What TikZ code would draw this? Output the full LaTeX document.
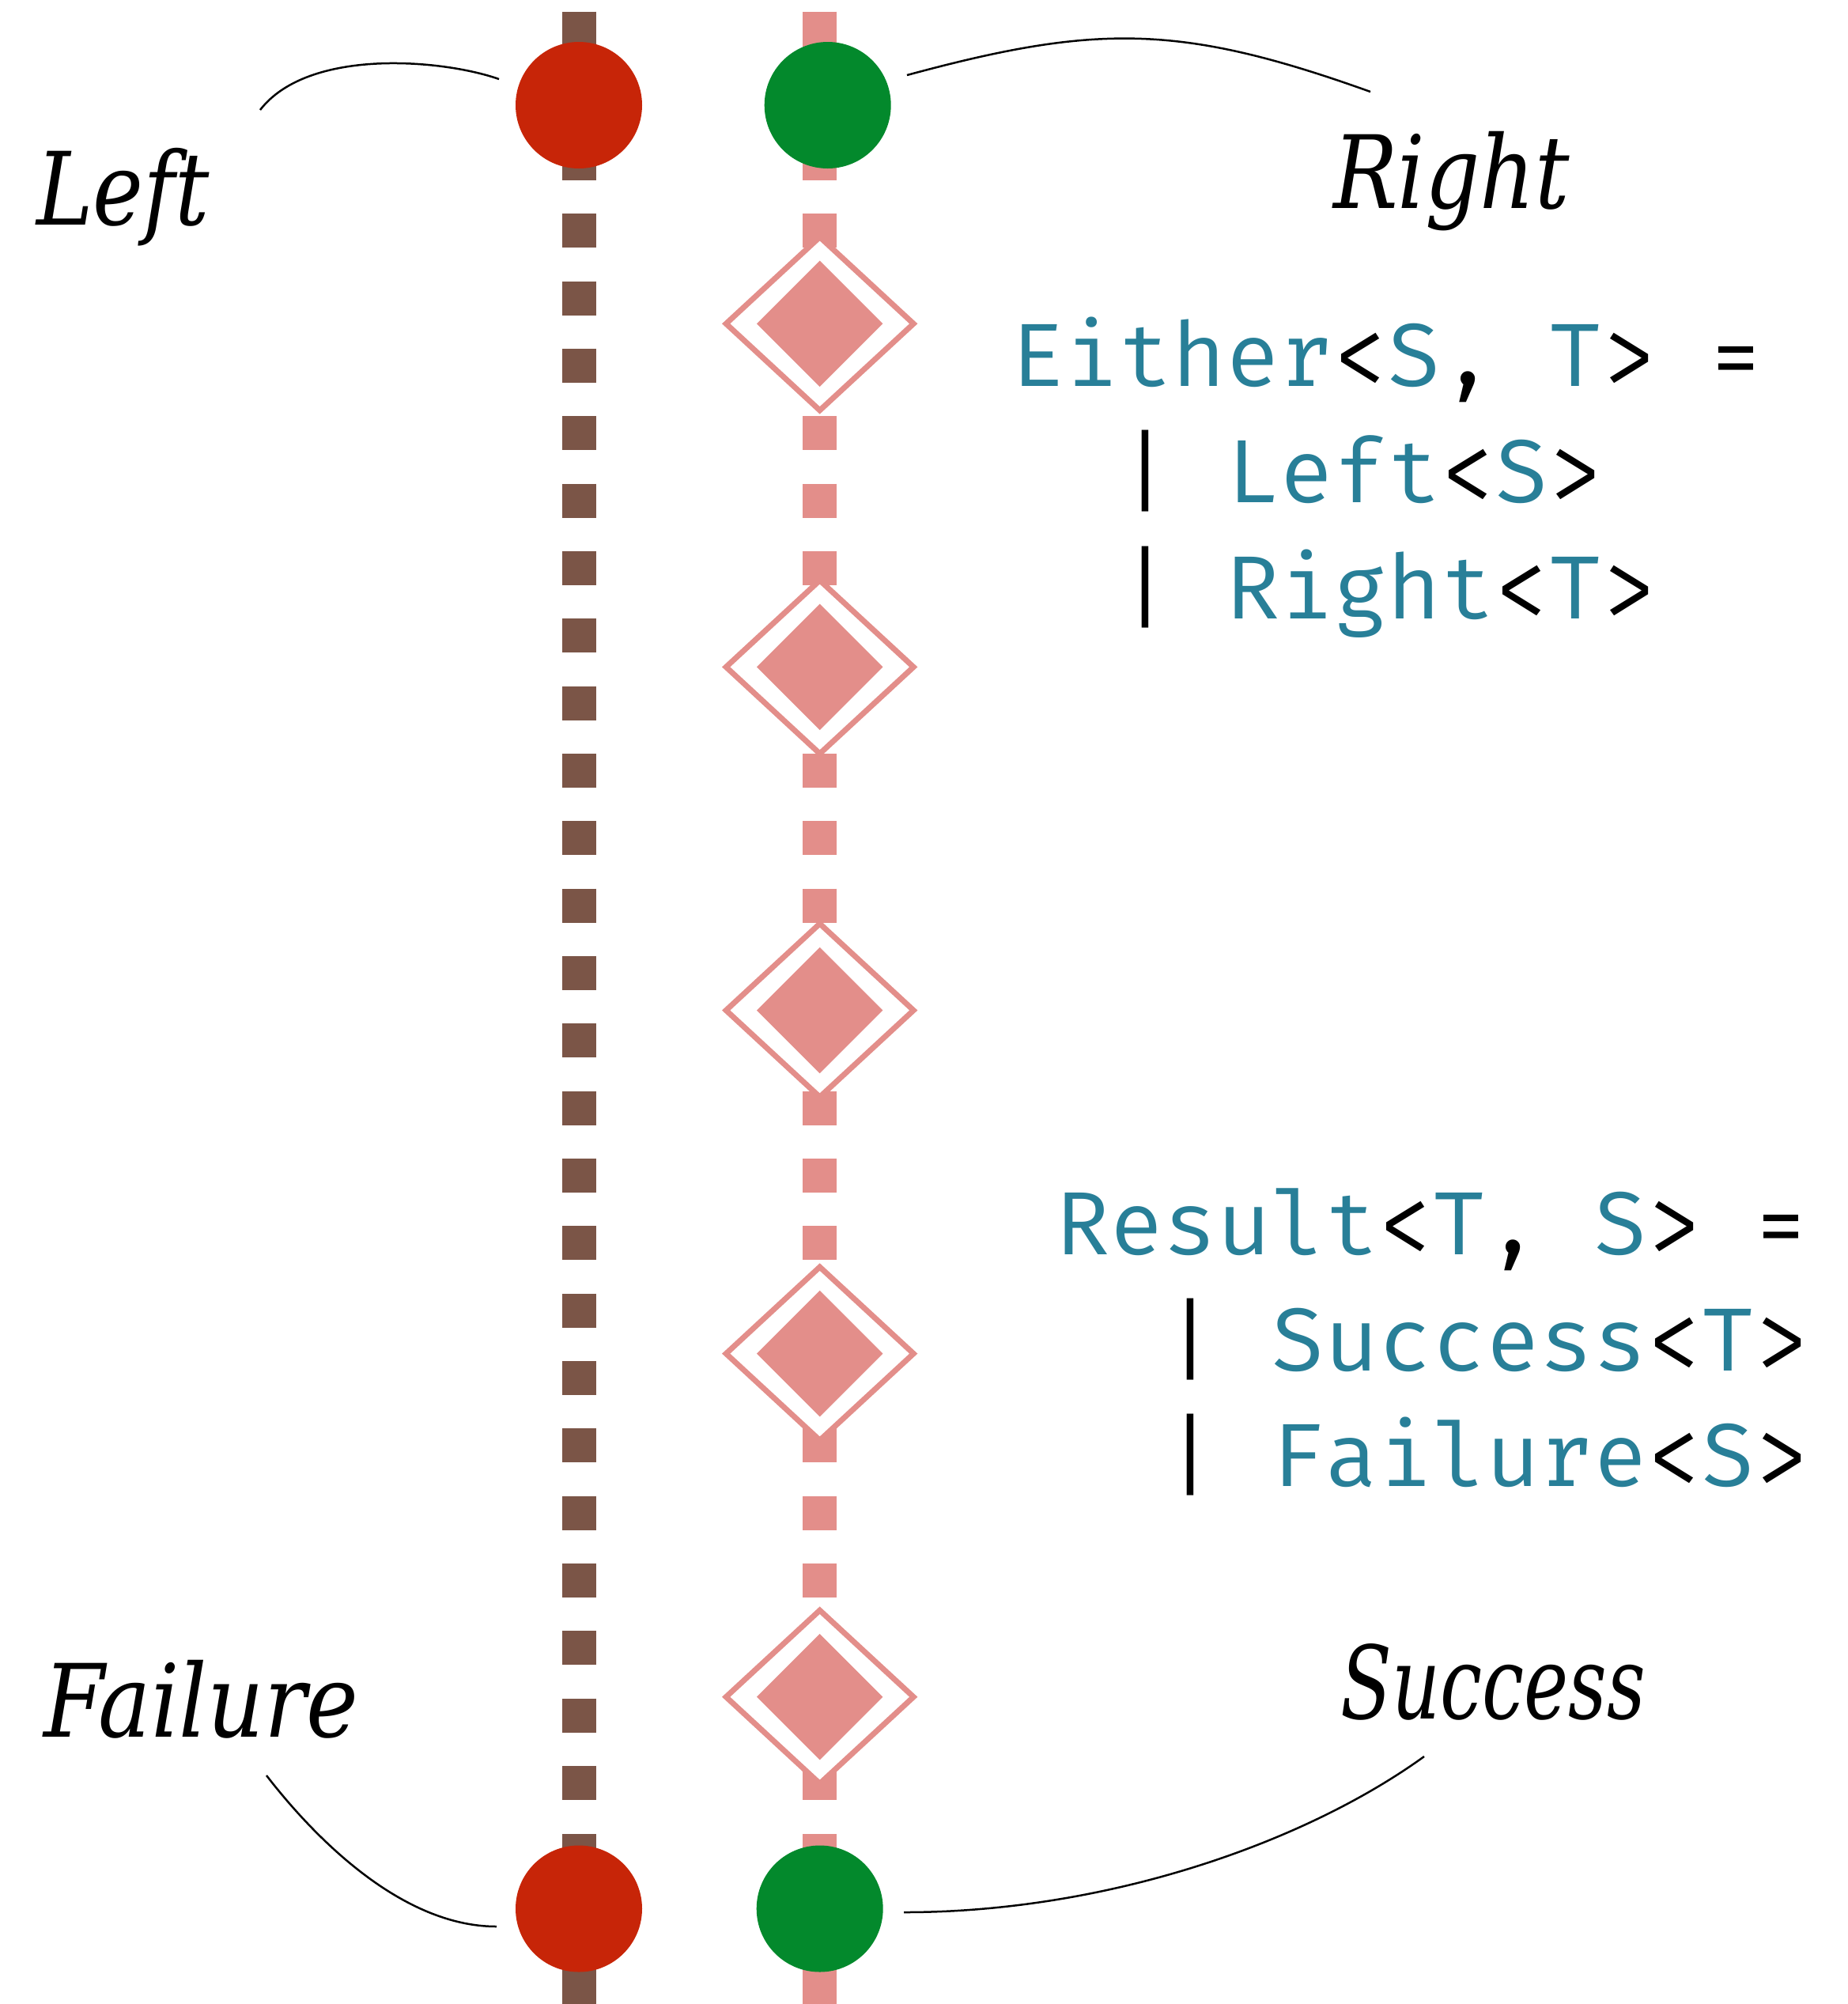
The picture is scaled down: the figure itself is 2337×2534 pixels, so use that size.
\documentclass[tikz,border=0pt]{standalone}
\usepackage{fontspec}
\usetikzlibrary{shapes.geometric}
\newfontfamily\lblfont{DejaVu Serif}
\newfontfamily\codefont{Fira Mono}
\definecolor{redc}{RGB}{199,37,8}
\definecolor{greenc}{RGB}{3,137,44}
\definecolor{brownc}{RGB}{123,85,71}
\definecolor{pinkc}{RGB}{227,142,138}
\definecolor{tealc}{RGB}{40,127,152}
\newcommand\lbl[2]{\resizebox{#1}{\height}{\lblfont\itshape\fontsize{38.4pt}{40pt}\selectfont #2}}
\newcommand\tc[1]{\textcolor{tealc}{#1}}
\begin{document}
\begin{tikzpicture}[x=0.3pt,y=-0.3pt,
  bar/.style={line width=12.9pt},
  dashpat/.style={dash pattern=on 12.9pt off 12.7pt},
  dot/.style={circle, minimum size=48pt, inner sep=0pt, draw=none},
  outerdia/.style={diamond, draw=pinkc, fill=white, line width=2.1pt, minimum width=72pt, minimum height=66.6pt, inner sep=0pt},
  innerdia/.style={diamond, fill=pinkc, minimum width=48pt, minimum height=48pt, inner sep=0pt},
  lblnode/.style={anchor=base west, inner sep=0pt, outer sep=0pt},
  code/.style={anchor=base west, inner sep=0pt, outer sep=0pt, font=\codefont\fontsize{34pt}{36pt}\selectfont},
  conn/.style={line width=0.75pt, draw=black}]
\useasboundingbox (0,0) rectangle (2337,2534);
% vertical tracks
\draw[bar, brownc] (732.5,14.7) -- (732.5,228);
\draw[bar, brownc, dashpat] (732.5,270.3) -- (732.5,2276);
\draw[bar, brownc] (732.5,2319) -- (732.5,2534);
\draw[bar, pinkc] (1036.7,14.7) -- (1036.7,228);
\draw[bar, pinkc, dashpat] (1036.7,270.3) -- (1036.7,2276);
\draw[bar, pinkc] (1036.7,2319) -- (1036.7,2534);
% diamonds
\foreach \i/\y in {1/409.3,2/843.4,3/1277.5,4/1711.6,5/2145.7} {
  \node[outerdia] (d\i) at (1036.7,\y) {};
  \node[innerdia] (di\i) at (1036.7,\y) {};
}
% circles
\node[dot, fill=redc] (lt) at (732,133) {};
\node[dot, fill=greenc] (rt) at (1046.7,133) {};
\node[dot, fill=redc] (lb) at (732,2413.5) {};
\node[dot, fill=greenc] (rb) at (1036.7,2413.5) {};
% labels
\node[lblnode] (left) at (46,284) {\lbl{65.7pt}{Left}};
\node[lblnode] (right) at (1686,263) {\lbl{89.7pt}{Right}};
\node[lblnode] (failure) at (55,2196) {\lbl{119.4pt}{Failure}};
\node[lblnode] (success) at (1695,2173) {\lbl{115.8pt}{Success}};
% connector ends
\coordinate (la) at (329,139);
\coordinate (lc) at (631,100);
\coordinate (ra) at (1147,95);
\coordinate (rc) at (1733,116);
\coordinate (fa) at (337,2245);
\coordinate (fc) at (628,2436);
\coordinate (sa) at (1143,2418);
\coordinate (sc) at (1801,2221);
\draw[conn] (la) .. controls (390,60) and (560,75) .. (lc);
\draw[conn] (ra) .. controls (1387,30) and (1493,30) .. (rc);
\draw[conn] (fa) .. controls (398,2324) and (508,2436) .. (fc);
\draw[conn] (sa) .. controls (1400,2418) and (1650,2330) .. (sc);
% code
\node[code] (e1) at (1278,488) {\tc{Either}<\tc{S}, \tc{T}> =};
\node[code] (e2) at (1414,635) {| \tc{Left}<\tc{S}>};
\node[code] (e3) at (1414,782) {| \tc{Right}<\tc{T}>};
\node[code] (r1) at (1335,1586) {\tc{Result}<\tc{T}, \tc{S}> =};
\node[code] (r2) at (1471,1733) {| \tc{Success}<\tc{T}>};
\node[code] (r3) at (1471,1879) {| \tc{Failure}<\tc{S}>};
\end{tikzpicture}
\end{document}
